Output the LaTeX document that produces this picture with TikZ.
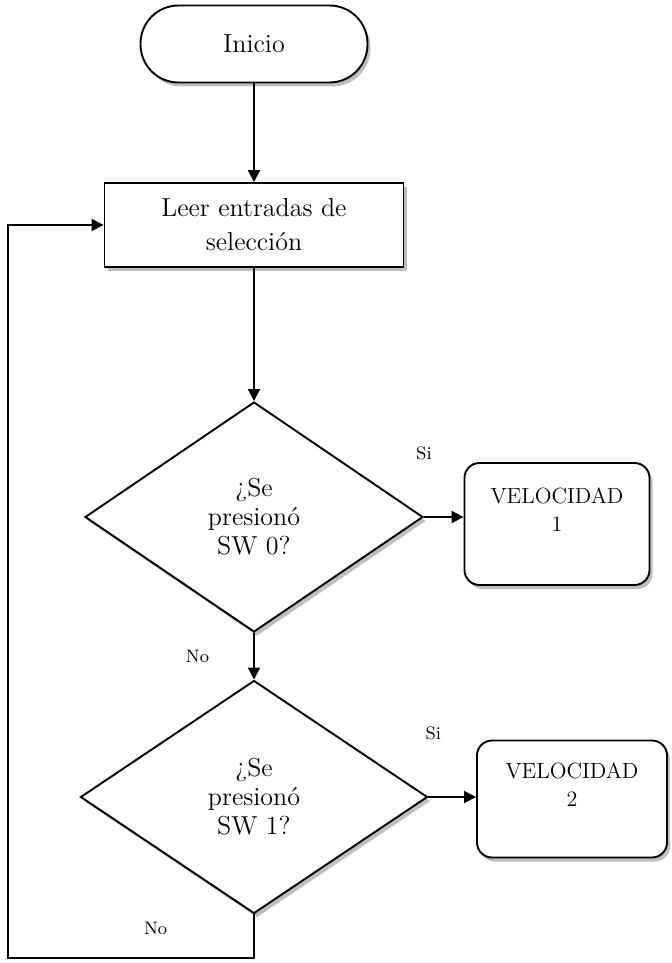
\documentclass[tikz,border=0pt]{standalone}
\usepackage{fontspec}
\usetikzlibrary{arrows.meta,positioning,shapes.geometric,shadows}

\begin{document}
\begin{tikzpicture}[x=0.5pt,y=-0.5pt,on grid,line width=0.95pt,
    >={Triangle[length=6pt,width=6pt]}]
  \tikzstyle{boxshadow}=[drop shadow={shadow xshift=1.5pt,shadow yshift=-2pt,fill=black,opacity=0.25}]
  \tikzstyle{terminal}=[rectangle,rounded corners=19pt,draw,fill=white,boxshadow,minimum width=113.5pt,minimum height=38.5pt,font=\fontsize{13}{16}\selectfont]
  \tikzstyle{process}=[rectangle,draw,fill=white,boxshadow,align=center,minimum width=149.5pt,minimum height=42pt,font=\fontsize{13}{17}\selectfont]
  \tikzstyle{decision}=[diamond,draw,fill=white,boxshadow,align=center,inner sep=1pt,font=\fontsize{13}{14.5}\selectfont]
  \tikzstyle{speed}=[rectangle,rounded corners=7.5pt,draw,fill=white,boxshadow,align=center,font=\fontsize{11}{14}\selectfont]
  \tikzstyle{lbl}=[font=\fontsize{9}{11}\selectfont,inner sep=1pt]
  \useasboundingbox (0,0) rectangle (671,963);

  \node[terminal]       (inicio) at (254,44)        {Inicio};
  \node[process]        (leer) [below=90.5pt of inicio] {Leer entradas de\\selección};
  \node[decision,minimum width=169pt,minimum height=115pt]   (sw0) [below=146pt of leer] {¿Se\\presionó\\SW 0?};
  \node[decision,minimum width=173.5pt,minimum height=116.5pt] (sw1) [below=140pt of sw0] {¿Se\\presionó\\SW 1?};
  \node[speed,minimum width=92.5pt,minimum height=61pt]  (vel1) [right=151.5pt of sw0,yshift=-3.5pt] {VELOCIDAD\\1\\~};
  \node[speed,minimum width=95pt,minimum height=58.5pt]  (vel2) [right=159pt of sw1,yshift=-1pt] {VELOCIDAD\\2\\~};
  \coordinate (back) at (8,958);

  \draw[->] (inicio) -- (leer);
  \draw[->] (leer) -- (sw0);
  \draw[->] (sw0) -- node[left=21pt,lbl] {No} (sw1);
  \draw[->] (sw0.east) -- node[pos=0,above=27pt,lbl] {Si} (sw0.east -| vel1.west);
  \draw[->] (sw1.east) -- node[pos=0.1,above=27pt,lbl] {Si} (sw1.east -| vel2.west);
  \draw[->] (sw1.south) |- node[pos=0.7,above=10pt,lbl] {No} (back) |- (leer.west);
\end{tikzpicture}
\end{document}
